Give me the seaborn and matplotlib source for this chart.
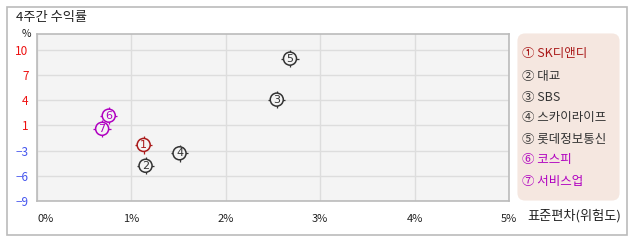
import matplotlib
matplotlib.use("Agg")
import matplotlib.pyplot as plt
import seaborn as sns
import pandas as pd
import numpy as np
from matplotlib.patches import FancyBboxPatch, Rectangle

sns.set_theme(style="white")
plt.rcParams['font.family'] = ['Noto Sans CJK KR', 'DejaVu Sans']

names = ["SK디앤디", "대교", "SBS", "스카이라이프", "롯데정보통신", "코스피", "서비스업"]
nums = ["1", "2", "3", "4", "5", "6", "7"]
circled = ["①", "②", "③", "④", "⑤", "⑥", "⑦"]
risk = [1.13, 1.15, 2.54, 1.51, 2.68, 0.76, 0.69]
ret = [-1.95, -4.57, 3.75, -3.0, 8.9, 1.73, 0.08]
colors = ["#aa1a1a", "#333333", "#333333", "#333333", "#333333", "#b000c0", "#b000c0"]
x_ticks = [0, 1, 2, 3, 4, 5]
x_labels = ["0%", "1%", "2%", "3%", "4%", "5%"]
y_ticks = list(np.linspace(-9, 10, 7))
y_labels = ["−9", "−6", "−3", "1", "4", "7", "10"]

df = pd.DataFrame({"name": names, "risk": risk, "ret": ret, "num": nums})

fig = plt.figure(figsize=(6.38, 2.42), dpi=100)
fig.patch.set_facecolor("white")
fig.patches.append(Rectangle((7/638, 1-235/242), 620/638, 228/242, transform=fig.transFigure,
                             fill=False, edgecolor="#bbbbbb", linewidth=1.2))

ax = fig.add_axes([37/638, 1-201/242, 472/638, 167/242])
ax.set_facecolor("#f4f4f4")

pal = dict(zip(names, colors))
sns.scatterplot(data=df, x="risk", y="ret", hue="name", palette=pal, marker="+",
                s=155, linewidth=0.9, legend=False, ax=ax, zorder=3)
sns.scatterplot(data=df, x="risk", y="ret", hue="name", palette=pal, marker="o",
                s=88, linewidth=1.1, legend=False, ax=ax, zorder=4)
for coll in ax.collections[1:]:
    coll.set_facecolor("#f4f4f4")
    coll.set_edgecolor(colors)
for xi, yi, n, c in zip(risk, ret, nums, colors):
    ax.text(xi, yi, n, color=c, fontsize=8, ha="center", va="center",
            zorder=5, family=["DejaVu Sans"])

ax.set_xlim(0, 5)
ax.set_ylim(-9, 12.0)
ax.set_xticks(x_ticks)
ax.set_xticklabels(x_labels, fontsize=8, color="#222222")
ax.set_yticks(y_ticks)
ax.set_yticklabels(y_labels, fontsize=8.5)
for lab, v in zip(ax.get_yticklabels(), y_labels):
    lab.set_color("#ee1111" if not v.startswith("−") else "#4455ee")
xl = ax.get_xticklabels()
xl[0].set_horizontalalignment("left")
ax.tick_params(axis="both", length=0)
ax.tick_params(axis="x", pad=9)
ax.tick_params(axis="y", pad=6)
ax.grid(True, color="#dddddd", linewidth=1)
ax.set_axisbelow(True)
for sp in ax.spines.values():
    sp.set_color("#bbbbbb")
    sp.set_linewidth(1.2)
ax.set_xlabel("")
ax.set_ylabel("")

fig.text(16/638, 1-17/242, "4주간 수익률", fontsize=9.5, color="#222222", va="center", ha="left")
fig.text(31/638, 1-34/242, "%", fontsize=7.5, color="#222222", va="center", ha="right")
fig.text(527/638, 1-216/242, "표준편차(위험도)", fontsize=9.5, color="#222222", va="center", ha="left")

fig.patches.append(FancyBboxPatch((520/638, 1-198/242), 97/638, 162/242,
                                  boxstyle="round,pad=0.004,rounding_size=0.012",
                                  transform=fig.transFigure, facecolor="#f5e7e0",
                                  edgecolor="none", mutation_aspect=638/242))
ys = [54, 76, 97, 118, 139, 160, 181]
for yy, cn, n, c in zip(ys, circled, names, colors):
    fig.text(522/638, 1-yy/242, cn + " " + n, fontsize=9, color=c, va="center", ha="left")

fig.savefig("out.png", dpi=100, facecolor="white")
